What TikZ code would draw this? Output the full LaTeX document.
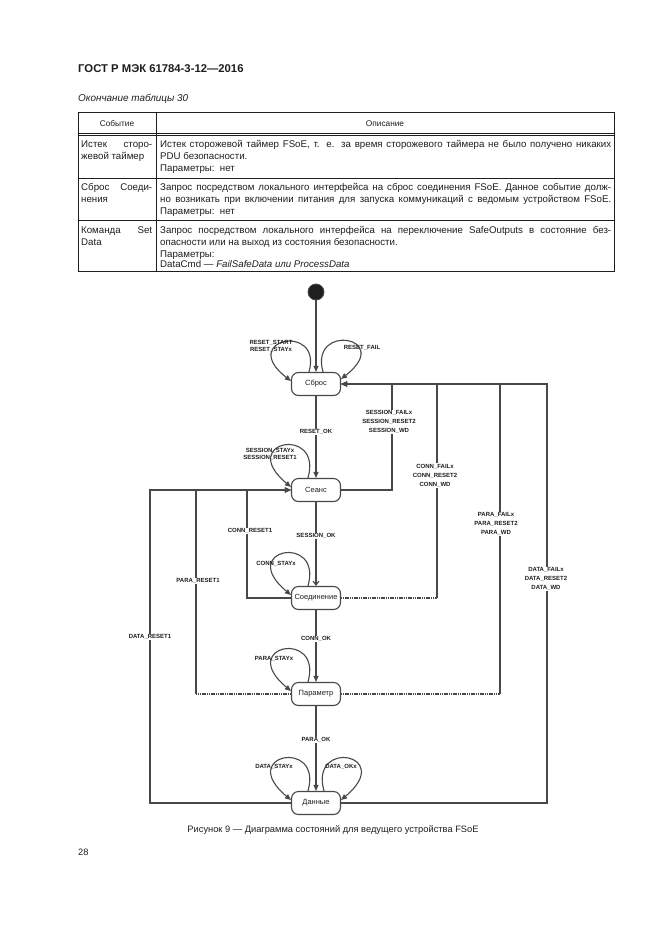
\documentclass[tikz,border=0pt]{standalone}
\usepackage{fontspec}
\setmainfont{Liberation Sans}
\usetikzlibrary{arrows.meta}
\definecolor{ln}{RGB}{72,72,72}
\definecolor{tx}{RGB}{30,30,30}
\begin{document}
\begin{tikzpicture}[x=1pt,y=-1pt,
  line/.style={draw=ln, line width=1.1pt},
  arr/.style={line, -{Triangle[length=6pt,width=5pt]}},
  oarr/.style={line, -{Straight Barb[length=4pt,width=6pt]}},
  dline/.style={draw=ln, line width=1.1pt, dash pattern=on 1.2pt off 0.6pt},
  tab/.style={draw=tx, line width=0.6pt},
  state/.style={draw=ln, line width=1.1pt, rounded corners=7pt, minimum width=49pt, minimum height=23pt, inner sep=0pt, fill=white, text=tx, font=\fontsize{7.5}{8}\selectfont},
  lab/.style={fill=white, inner sep=1pt, align=center, text=tx, font=\bfseries\fontsize{6}{9}\selectfont},
  llab/.style={inner sep=0pt, align=center, text=tx, font=\bfseries\fontsize{6}{7}\selectfont},
  tt/.style={anchor=base west, inner sep=0pt, text=tx, font=\fontsize{9.7}{11}\selectfont},
  th/.style={anchor=base, inner sep=0pt, text=tx, font=\fontsize{8.3}{9}\selectfont}]
\fill[white] (0,0) rectangle (661,935);
\useasboundingbox (0,0) rectangle (661,935);

% header
\node[anchor=base west, inner sep=0pt, text=tx, font=\bfseries\fontsize{11.3}{13}\selectfont] (title) at (78,72) {ГОСТ Р МЭК 61784-3-12—2016};
\node[anchor=base west, inner sep=0pt, text=tx, font=\itshape\fontsize{9.9}{11}\selectfont] (cont) at (78,101) {Окончание таблицы 30};

% table
\draw[tab] (78,112) rectangle (614,271);
\draw[tab] (156,112) -- (156,271);
\draw[tab] (78,133) -- (614,133);
\draw[tab] (78,135.5) -- (614,135.5);
\draw[tab] (78,178) -- (614,178);
\draw[tab] (78,220) -- (614,220);

\node[th] (h1) at (117,126) {Событие};
\node[th] (h2) at (385,126) {Описание};

\node[tt] (a1) at (81,147) {\makebox[71pt][s]{Истек сторо-}};
\node[tt] (a2) at (81,159) {жевой таймер};
\node[tt] (b1) at (160,147) {\makebox[451pt][s]{Истек сторожевой таймер FSoE, т. е. за время сторожевого таймера не было получено никаких}};
\node[tt] (b2) at (160,159) {PDU безопасности.};
\node[tt] (b3) at (160,171) {Параметры:\ \ нет};

\node[tt] (a3) at (81,190) {\makebox[71pt][s]{Сброс Соеди-}};
\node[tt] (a4) at (81,202) {нения};
\node[tt] (b4) at (160,190) {\makebox[451pt][s]{Запрос посредством локального интерфейса на сброс соединения FSoE. Данное событие долж-}};
\node[tt] (b5) at (160,202) {\makebox[451pt][s]{но возникать при включении питания для запуска коммуникаций с ведомым устройством FSoE.}};
\node[tt] (b6) at (160,214) {Параметры:\ \ нет};

\node[tt] (a5) at (81,233) {\makebox[71pt][s]{Команда Set}};
\node[tt] (a6) at (81,245) {Data};
\node[tt] (b7) at (160,233) {\makebox[451pt][s]{Запрос посредством локального интерфейса на переключение SafeOutputs в состояние без-}};
\node[tt] (b8) at (160,245) {опасности или на выход из состояния безопасности.};
\node[tt] (b9) at (160,257) {Параметры:};
\node[tt] (b10) at (160,267) {DataCmd — \textit{FailSafeData или ProcessData}};

% states
\node[circle, fill=black!88, draw=ln, line width=0.8pt, minimum size=16pt, inner sep=0pt] (init) at (316,292) {};
\node[state] (sb) at (316,384) {Сброс};
\node[state] (se) at (316,490) {Сеанс};
\node[state] (co) at (316,598) {Соединение};
\node[state] (pa) at (316,694) {Параметр};
\node[state] (da) at (316,803) {Данные};

% main chain
\draw[arr] (init) -- (sb);
\draw[arr] (sb) -- (se);
\draw[oarr] (se) -- (co);
\draw[arr] (co) -- (pa);
\draw[arr] (pa) -- (da);

% right side returns to Сброс
\coordinate (r1) at (392,384);
\coordinate (r2) at (437,384);
\coordinate (r3) at (500,384);
\coordinate (r4) at (547,384);
\draw[arr] (se.east) -| (r1) -- (sb.east);
\draw[dline] (co.east) -- (co.east -| r2);
\draw[arr] (co.east -| r2) -- (r2) -- (sb.east);
\draw[dline] (pa.east) -- (pa.east -| r3);
\draw[arr] (pa.east -| r3) -- (r3) -- (sb.east);
\draw[arr] (da.east) -| (r4) -- (sb.east);

% left side returns to Сеанс
\coordinate (l1) at (247,490);
\coordinate (l2) at (196,490);
\coordinate (l3) at (150,490);
\draw[arr] (co.west) -| (l1) -- (se.west);
\draw[dline] (pa.west) -- (pa.west -| l2);
\draw[arr] (pa.west -| l2) -- (l2) -- (se.west);
\draw[arr] (da.west) -| (l3) -- (se.west);

% self loops
\draw[arr] ([xshift=-7pt]sb.north) .. controls +(14,-50) and +(-54,-42) .. ([yshift=3pt]sb.west);
\draw[arr] ([xshift=7pt]sb.north) .. controls +(-14,-50) and +(54,-42) .. ([yshift=5pt]sb.east);
\draw[arr] ([xshift=-8pt]se.north) .. controls +(15,-53) and +(-55,-46) .. ([yshift=3pt]se.west);
\draw[arr] ([xshift=-8pt]co.north) .. controls +(15,-53) and +(-55,-46) .. ([yshift=3pt]co.west);
\draw[arr] ([xshift=-8pt]pa.north) .. controls +(15,-53) and +(-55,-46) .. ([yshift=3pt]pa.west);
\draw[arr] ([xshift=-8pt]da.north) .. controls +(15,-53) and +(-55,-46) .. ([yshift=3pt]da.west);
\draw[arr] ([xshift=8pt]da.north) .. controls +(-15,-53) and +(55,-46) .. ([yshift=3pt]da.east);

% labels on lines
\node[lab] (lro) at (316,432) {RESET\_OK};
\node[lab] (lso) at (316,536) {SESSION\_OK};
\node[lab] (lco) at (316,639) {CONN\_OK};
\node[lab] (lpo) at (316,740) {PARA\_OK};
\node[lab] (ls) at (389,422) {SESSION\_FAILx\\SESSION\_RESET2\\SESSION\_WD};
\node[lab] (lc) at (435,475.5) {CONN\_FAILx\\CONN\_RESET2\\CONN\_WD};
\node[lab] (lp) at (496,524) {PARA\_FAILx\\PARA\_RESET2\\PARA\_WD};
\node[lab] (ld) at (546,579) {DATA\_FAILx\\DATA\_RESET2\\DATA\_WD};
\node[lab] (lcr) at (250,531) {CONN\_RESET1};
\node[lab] (lpr) at (198,581) {PARA\_RESET1};
\node[lab] (ldr) at (150,637) {DATA\_RESET1};

% loop labels
\node[llab] (lrs) at (271,346.5) {RESET\_START\\RESET\_STAYx};
\node[llab] (lrf) at (362,348) {RESET\_FAIL};
\node[llab] (lss) at (270,454.5) {SESSION\_STAYx\\SESSION\_RESET1};
\node[llab] (lcs) at (276,564) {CONN\_STAYx};
\node[llab] (lps) at (274,659) {PARA\_STAYx};
\node[llab] (lds) at (274,767) {DATA\_STAYx};
\node[llab] (ldo) at (341,767) {DATA\_OKx};

% caption and page number
\node[anchor=base, inner sep=0pt, text=tx, font=\fontsize{9.3}{11}\selectfont] (cap) at (333,832) {Рисунок 9 — Диаграмма состояний для ведущего устройства FSoE};
\node[anchor=base west, inner sep=0pt, text=tx, font=\fontsize{9.3}{11}\selectfont] (pg) at (78,855) {28};
\end{tikzpicture}
\end{document}
